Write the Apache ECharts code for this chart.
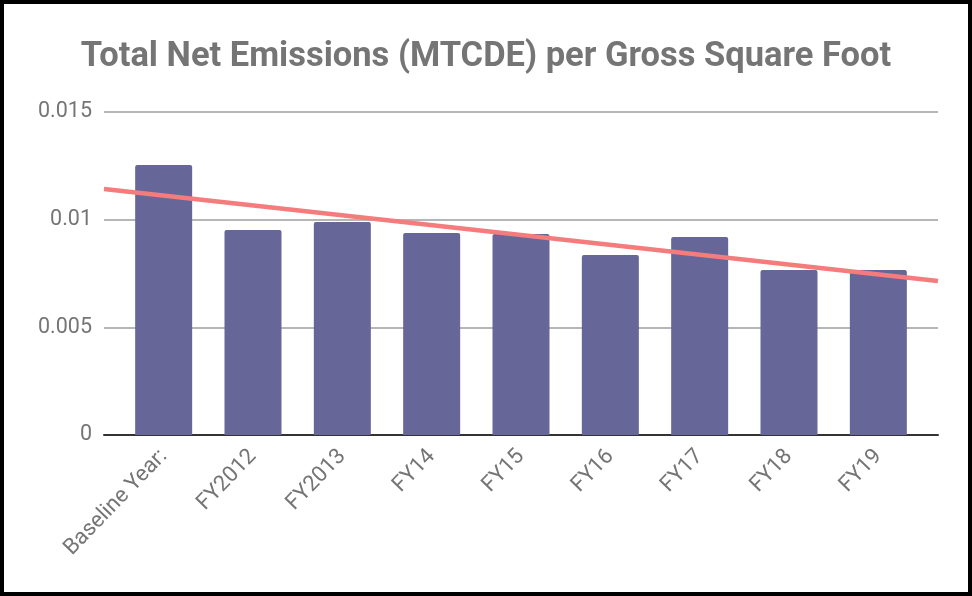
<!DOCTYPE html>
<html>
<head>
<meta charset="utf-8">
<script src="https://cdn.jsdelivr.net/npm/echarts@6/dist/echarts.min.js"></script>
<style>
  html, body { margin: 0; padding: 0; background: #fff; }
  #frame {
    width: 972px;
    height: 596px;
    box-sizing: border-box;
    border: 4px solid #000;
    position: relative;
  }
  #chart {
    position: absolute;
    left: -4px;
    top: -4px;
    width: 972px;
    height: 596px;
  }
</style>
</head>
<body>
<div id="frame"><div id="chart"></div></div>
<script>
const categories = ["Baseline Year:", "FY2012", "FY2013", "FY14", "FY15", "FY16", "FY17", "FY18", "FY19"];
const emissions = [0.01254, 0.00952, 0.00989, 0.00938, 0.00933, 0.00836, 0.0092, 0.00766, 0.00766];
// trend line end points, read at the left and right edge of the plot
const trendX = [-0.67, 8.67];
const trendY = [0.01142, 0.00715];
const yTicks = { min: 0, max: 0.015, step: 0.005 };

const chart = echarts.init(document.getElementById("chart"));
const labelColor = "#757575";

chart.setOption({
  animation: false,
  textStyle: { fontFamily: "Roboto" },
  title: {
    text: "Total Net Emissions (MTCDE) per Gross Square Foot",
    left: "center",
    top: 35,
    textStyle: { fontFamily: "Roboto", fontWeight: "bold", fontSize: 34.5, color: labelColor }
  },
  grid: [
    { left: 104, right: 34, top: 112, bottom: 161 },
    { left: 119, right: 49, top: 112, bottom: 161 }
  ],
  xAxis: [
    {
      gridIndex: 0,
      type: "value",
      min: trendX[0],
      max: trendX[1],
      axisLabel: { show: false },
      axisTick: { show: false },
      splitLine: { show: false },
      axisLine: { show: true, lineStyle: { color: "#333", width: 2 } }
    },
    {
      gridIndex: 1,
      type: "category",
      data: categories,
      axisLine: { show: false },
      axisTick: { show: false },
      axisLabel: { rotate: 46, fontSize: 22, color: labelColor, margin: 18, interval: 0 }
    }
  ],
  yAxis: [
    {
      gridIndex: 0,
      type: "value",
      min: yTicks.min,
      max: yTicks.max,
      interval: yTicks.step,
      axisLine: { show: false },
      axisTick: { show: false },
      axisLabel: { fontSize: 21.5, color: labelColor, margin: 12 },
      splitLine: { lineStyle: { color: "#9e9e9e", width: 1.5 } }
    },
    {
      gridIndex: 1,
      type: "value",
      min: yTicks.min,
      max: yTicks.max,
      show: false
    }
  ],
  series: [
    {
      type: "bar",
      xAxisIndex: 1,
      yAxisIndex: 1,
      data: emissions,
      barWidth: 57,
      itemStyle: { color: "#666699", borderRadius: [2, 2, 0, 0] }
    },
    {
      type: "line",
      xAxisIndex: 0,
      yAxisIndex: 0,
      data: trendX.map((x, i) => [x, trendY[i]]),
      symbol: "none",
      z: 5,
      lineStyle: { color: "#f47c7c", width: 4.5 }
    }
  ]
});
</script>
</body>
</html>
